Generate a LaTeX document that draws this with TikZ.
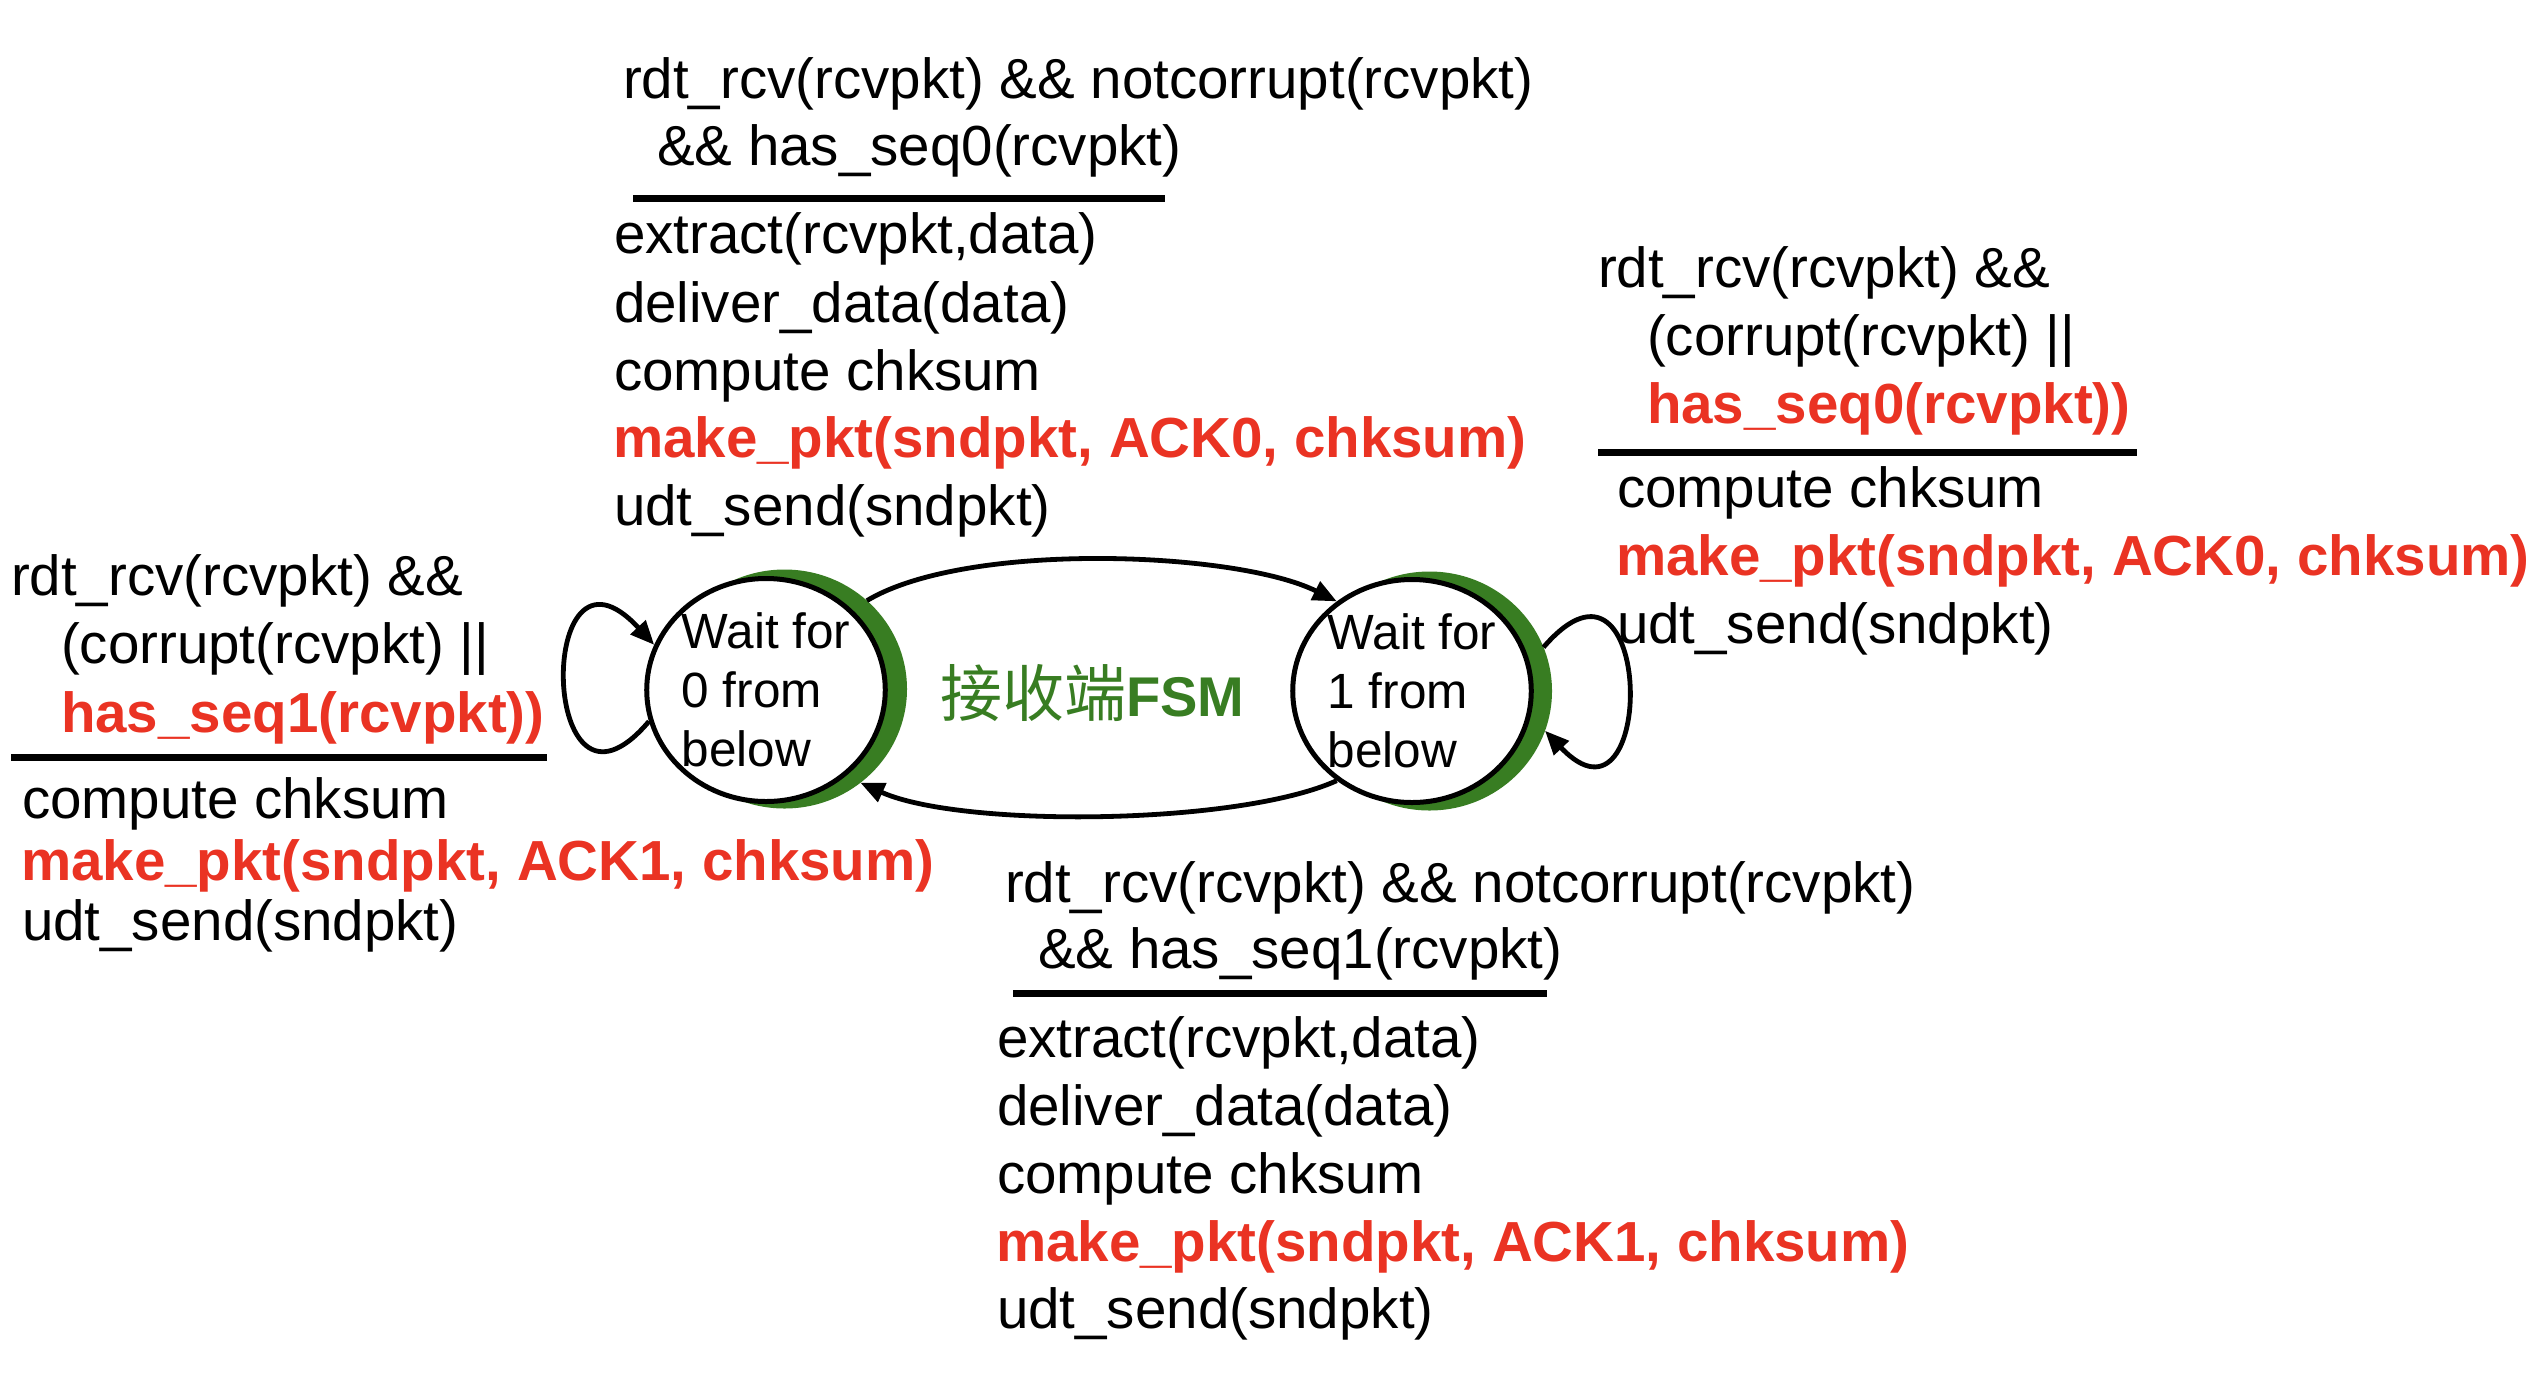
\documentclass[tikz,border=0pt]{standalone}
\usepackage{fontspec}
\setmainfont{Liberation Sans}
\newfontfamily\cjk{Noto Sans CJK SC}
\usetikzlibrary{shapes.geometric,arrows.meta}
\definecolor{pptred}{RGB}{234,51,35}
\definecolor{fsmgreen}{RGB}{56,125,34}
\newcommand\txtfs{\fontsize{56.5}{68}\selectfont}
\newcommand\cirfs{\fontsize{49.5}{59}\selectfont}
\begin{document}
\begin{tikzpicture}[x=1pt,y=-1pt,
  ln/.style={anchor=base west,inner sep=0pt,outer sep=0pt,font=\txtfs},
  rd/.style={ln,text=pptred,font=\txtfs\bfseries},
  rulex/.style={line width=7pt},
  state/.style={ellipse,draw,line width=5pt,fill=white,minimum width=235pt,minimum height=223pt,inner sep=0pt,align=left,font=\cirfs},
  shade/.style={ellipse,fill=fsmgreen,minimum width=245pt,minimum height=239pt,inner sep=0pt,outer sep=0pt},
  arr/.style={line width=4.8pt,-{Triangle[length=24pt,width=20pt]}}]
\useasboundingbox (0,0) rectangle (2534,1382);

% states
\node[shade] (g0) at (784.5,689) {};
\node[shade] (g1) at (1429.5,691) {};
\node[state] (s0) at (766,690) {Wait for\\0 from\\below};
\node[state] (s1) at (1412,691) {Wait for\\1 from\\below};

% label
\node[anchor=base west,inner sep=0pt,text=fsmgreen] (lbl) at (940,716)
  {{\cjk\fontsize{62}{62}\selectfont 接收端}{\fontsize{56}{56}\selectfont\bfseries FSM}};

% transitions
\draw[arr] (g0.47) .. controls +(100,-60) and +(-100,-50) .. (s1.130);
\draw[arr] (s1.230) .. controls +(-100,45) and +(100,45) .. (g0.-51);
\draw[arr] (s0.195) .. controls +(-110,130) and +(-120,-130) .. (s0.158);
\draw[arr] (g1.21) .. controls +(112,-130) and +(112,118) .. (g1.-19);

% top block
\node[ln] (T1) at (623,98) {rdt\_rcv(rcvpkt) \&\& notcorrupt(rcvpkt)};
\node[ln] (T2) at (657,165) {\&\& has\_seq0(rcvpkt)};
\draw[rulex] (633,198) -- (1165,198);
\node[ln] (T3) at (614,253) {extract(rcvpkt,data)};
\node[ln] (T4) at (614,322) {deliver\_data(data)};
\node[ln] (T5) at (614,390) {compute chksum};
\node[rd] (T6) at (613,457) {make\_pkt(sndpkt, ACK0, chksum)};
\node[ln] (T7) at (614,525) {udt\_send(sndpkt)};

% right block
\node[ln] (R1) at (1598,287) {rdt\_rcv(rcvpkt) \&\&};
\node[ln] (R2) at (1647,355) {(corrupt(rcvpkt) ||};
\node[rd] (R3) at (1647,423) {has\_seq0(rcvpkt))};
\draw[rulex] (1598,452) -- (2137,452);
\node[ln] (R4) at (1617,507) {compute chksum};
\node[rd] (R5) at (1616,575) {make\_pkt(sndpkt, ACK0, chksum)};
\node[ln] (R6) at (1617,643) {udt\_send(sndpkt)};

% bottom block
\node[ln] (B1) at (1005,902) {rdt\_rcv(rcvpkt) \&\& notcorrupt(rcvpkt)};
\node[ln] (B2) at (1038,968) {\&\& has\_seq1(rcvpkt)};
\draw[rulex] (1013,993) -- (1547,993);
\node[ln] (B3) at (997,1057) {extract(rcvpkt,data)};
\node[ln] (B4) at (997,1125) {deliver\_data(data)};
\node[ln] (B5) at (997,1193) {compute chksum};
\node[rd] (B6) at (996,1261) {make\_pkt(sndpkt, ACK1, chksum)};
\node[ln] (B7) at (997,1328) {udt\_send(sndpkt)};

% left block
\node[ln] (L1) at (11,595) {rdt\_rcv(rcvpkt) \&\&};
\node[ln] (L2) at (61,663) {(corrupt(rcvpkt) ||};
\node[rd] (L3) at (61,732) {has\_seq1(rcvpkt))};
\draw[rulex] (11,757) -- (547,757);
\node[ln] (L4) at (22,818) {compute chksum};
\node[rd] (L5) at (21,880) {make\_pkt(sndpkt, ACK1, chksum)};
\node[ln] (L6) at (22,940) {udt\_send(sndpkt)};
\end{tikzpicture}
\end{document}
